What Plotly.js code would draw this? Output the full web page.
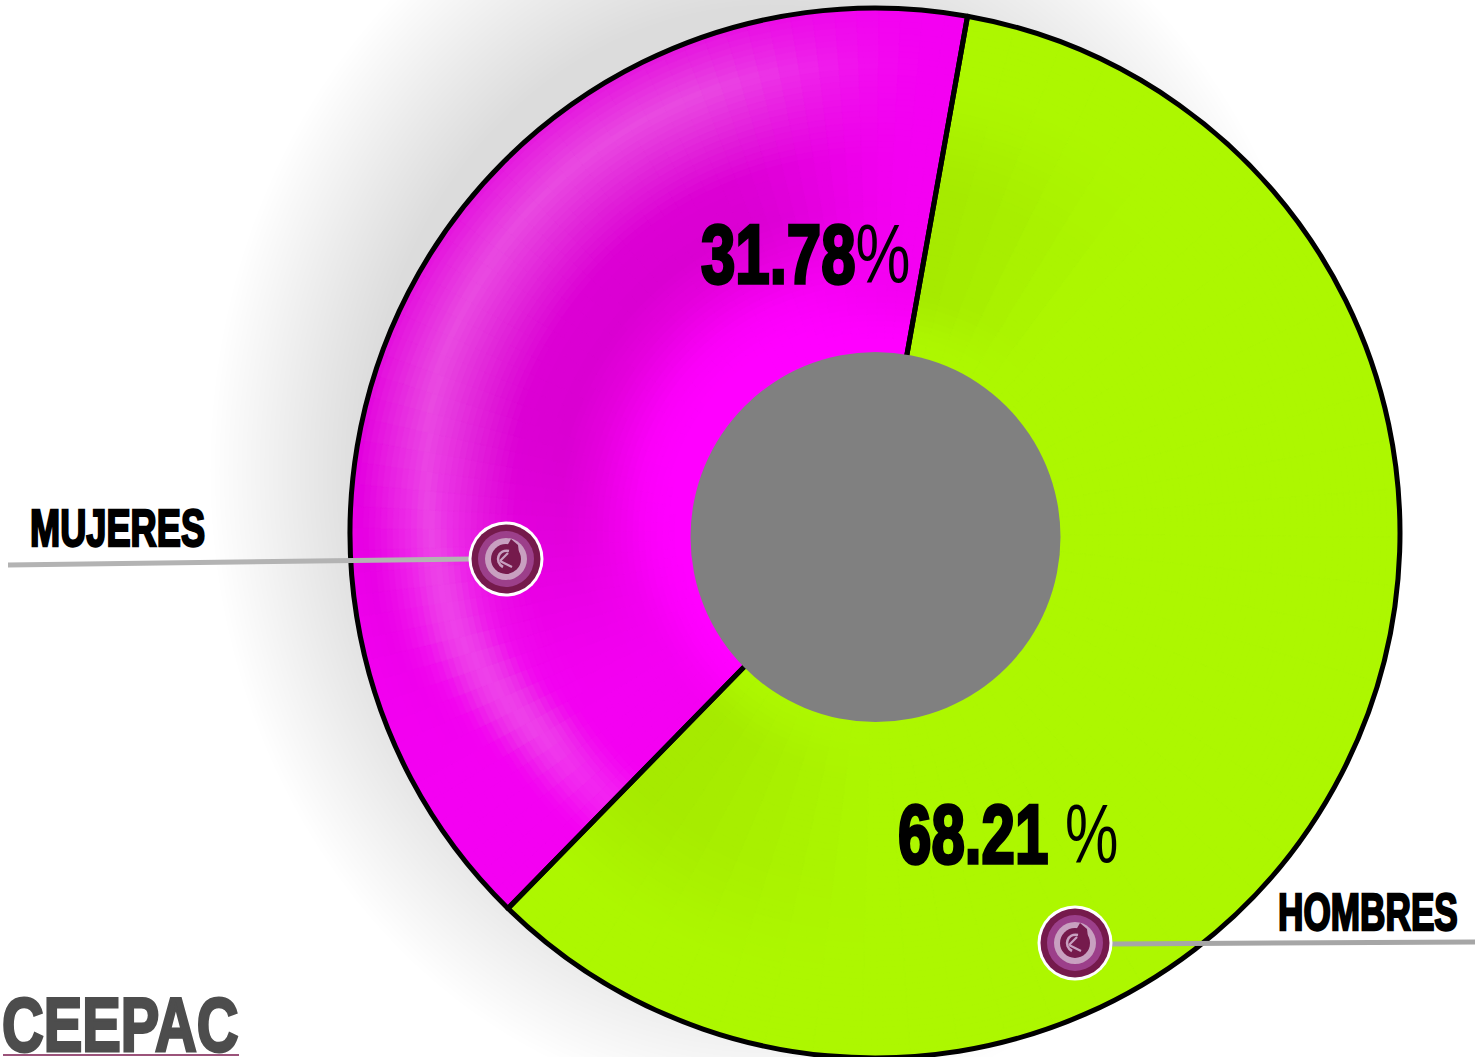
<!DOCTYPE html>
<html>
<head>
<meta charset="utf-8">
<script src="https://cdn.plot.ly/plotly-3.0.1.min.js"></script>
<style>
html,body{margin:0;padding:0;background:#fff;overflow:hidden;}
#chart{width:1475px;height:1060px;}
.annotation-text{stroke:#000;transform-box:fill-box;transform-origin:0% 50%;}
.annotation[data-index="0"] .annotation-text{stroke-width:3.4px;transform:scaleX(0.735);}
.annotation[data-index="1"] .annotation-text{stroke-width:3.4px;transform:scaleX(0.715);}
.annotation[data-index="2"] .annotation-text{stroke-width:2.4px;transform:scaleX(0.71);}
.annotation[data-index="3"] .annotation-text{stroke-width:2.4px;transform:scaleX(0.69);}
.annotation[data-index="4"] .annotation-text{stroke:#4d4d4d;stroke-width:3px;transform:scaleX(0.76);}
.annotation-text tspan[style*="font-weight"]{stroke:none;}
</style>
</head>
<body>
<div id="chart"></div>
<script>
// Data
const categories = ['HOMBRES', 'MUJERES'];
const printedNumbers = ['68.21 ', '31.78'];
const percentSign = '%';
// Share of the circle each slice occupies as drawn in the picture
const drawnShares = [59.5, 40.5];
const sliceColors = ['#adf700', '#f200f0'];
const startAngle = 10.15;

const W = 1475, H = 1060;
const cx = 875, cy = 533, R = 525;
const px = x => x / W, py = y => 1 - y / H;

function hex(c){return [1,3,5].map(i=>parseInt(c.substr(i,2),16));}
function mix(a,b,t){return a.map((v,i)=>v+(b[i]-v)*t);}
function css(c){return 'rgb('+c.map(v=>Math.round(v)).join(',')+')';}
function lookup(stops,x){
  if(x<=stops[0][0])return stops[0][1];
  for(let i=1;i<stops.length;i++){
    if(x<=stops[i][0]){
      const t=(x-stops[i-1][0])/(stops[i][0]-stops[i-1][0]);
      const a=stops[i-1][1],b=stops[i][1];
      return Array.isArray(a)?mix(a,b,t):a+(b-a)*t;
    }
  }
  return stops[stops.length-1][1];
}
const ss=(a,b,x)=>{const t=Math.max(0,Math.min(1,(x-a)/(b-a)));return t*t*(3-2*t);};

// Radial shading profile of the magenta slice
const magentaProfile = [
 [190,hex('#ff00ff')],[225,hex('#fa00f8')],[270,hex('#e400dc')],[300,hex('#da00d2')],[345,hex('#dc00d4')],
 [378,hex('#e01cd8')],[430,hex('#e94ae1')],[478,hex('#e414de')],[495,hex('#e000dc')],[525,hex('#ea00e6')]
];
const bandRadius = [[225,380],[238,392],[257,433],[290,468],[320,478],[335,475],[372,470]];
function magentaAt(r,a){
  const rr = r*430/lookup(bandRadius,a);
  const base = hex('#f400f2');
  const w = ss(235,290,a)*(1-ss(335,368,a));
  const band = 1-ss(0,55,Math.abs(rr-430));
  const lowBoost = a<290 ? band*ss(224,242,a)*0.95 : 0;
  let c = mix(base,lookup(magentaProfile,rr),Math.max(w,lowBoost));
  if(a<290 && band>0){ c = mix(c,hex('#f23cf0'),band*0.55*(1-ss(255,290,a))); }
  if(r<250){ c = mix(hex('#ff00ff'),c,ss(190,250,r)); }
  return c;
}
function greenAt(r,a){
  const base = hex('#adf700'), dark = hex('#a6ea00');
  const radial = ss(190,250,r)*(1-ss(340,470,r));
  const near = Math.max(1-ss(0,35,a-10.15), 1-ss(0,50,224.3-a));
  return mix(base,dark,radial*near);
}

const traces = [];
const dom = rad => ({x:[px(cx-rad),px(cx+rad)], y:[py(cy+rad),py(cy-rad)]});
const common = {type:'pie',sort:false,direction:'clockwise',rotation:startAngle,textinfo:'none',
                hoverinfo:'skip',showlegend:false};
traces.push(Object.assign({},common,{labels:categories,values:drawnShares,domain:dom(R),
  marker:{colors:sliceColors,line:{width:0}}}));

// Shading: nested discs, each split into small sectors of the two slices
const nGreen=40, nMag=60, step=6;
const sectorVals=[], sectorLabels=[], sectorAngles=[];
for(let i=0;i<nGreen;i++){sectorVals.push(drawnShares[0]/nGreen);sectorLabels.push('g'+i);
  sectorAngles.push(['g',startAngle+(i+.5)*drawnShares[0]*3.6/nGreen]);}
for(let i=0;i<nMag;i++){sectorVals.push(drawnShares[1]/nMag);sectorLabels.push('m'+i);
  sectorAngles.push(['m',startAngle+drawnShares[0]*3.6+(i+.5)*drawnShares[1]*3.6/nMag]);}
for(let r=R-1;r>180;r-=step){
  const colors=sectorAngles.map(s=>css(s[0]==='g'?greenAt(r,s[1]):magentaAt(r,s[1])));
  traces.push(Object.assign({},common,{labels:sectorLabels,values:sectorVals,domain:dom(r),
    marker:{colors:colors,line:{width:0.6,color:colors}}}));
}
// Outline on top
traces.push(Object.assign({},common,{labels:categories,values:drawnShares,domain:dom(R),
  marker:{colors:['rgba(0,0,0,0)','rgba(0,0,0,0)'],line:{color:'#000',width:5}}}));

const shapes=[];
function ellipse(x,y,rx,ry,fill,layer){
  shapes.push({type:'circle',xref:'paper',yref:'paper',layer:layer||'above',
    x0:px(x-rx),x1:px(x+rx),y0:py(y+ry),y1:py(y-ry),fillcolor:fill,line:{width:0}});
}
const circle=(x,y,r,fill,layer)=>ellipse(x,y,r,r,fill,layer);
// Soft drop shadow behind the disc
for(let s=1;s>=0.72;s-=0.008){ ellipse(770,470,560*s,640*s,'rgba(0,0,0,0.0036)','below'); }

// Centre hole
circle(875.5,537,185,'#808080');

// Leader lines
function seg(x0,y0,x1,y1,c,w){shapes.push({type:'line',xref:'paper',yref:'paper',layer:'above',
  x0:px(x0),x1:px(x1),y0:py(y0),y1:py(y1),line:{color:c,width:w}});}
seg(8,565,472,559,'#b3b3b3',5);
seg(1110,944,1475,942,'#a6a6a6',5);

// Callout badges
function path(d,fill,stroke,w){shapes.push({type:'path',xref:'paper',yref:'paper',layer:'above',path:d,
  fillcolor:fill,line:{color:stroke||'rgba(0,0,0,0)',width:w||0}});}
function badge(x,y){
  const P=(dx,dy)=>px(x+dx).toFixed(5)+' '+py(y+dy).toFixed(5);
  circle(x,y,37.5,'#ffffff');
  circle(x,y,34.5,'#751a4c');
  circle(x,y,28,'#9c3f8a');
  circle(x,y,21,'#c8a0c0');
  circle(x,y,15,'#751a4c');
  path('M '+P(1,-13)+' L '+P(5,-20)+' L '+P(12,-14)+' L '+P(14,3)+' L '+P(3,9)+' Z','#751a4c');
  path('M '+P(3,-8)+' C '+P(-8,-10)+' '+P(-12,3)+' '+P(-3,8),'rgba(0,0,0,0)','#c8a0c0',2.6);
  path('M '+P(-6,2)+' L '+P(2,-6)+' M '+P(-6,2)+' L '+P(6,8),'rgba(0,0,0,0)','#c8a0c0',2.2);
}
badge(506,559);
badge(1075,943);

// Logo underline
seg(3,1055,239,1055,'#7a1a4e',1.4);

const heavy='"Liberation Sans",sans-serif';
function note(text,x,y,size,color){
  return {text:text,xref:'paper',yref:'paper',x:px(x),y:py(y),xanchor:'left',yanchor:'middle',
    showarrow:false,font:{family:heavy,size:size,color:color,weight:700},borderpad:0,borderwidth:0};
}
const thin='<span style="font-weight:400">'+percentSign+'</span>';
const annotations=[
  note(printedNumbers[1]+thin,701,254,84,'#000'),
  note(printedNumbers[0]+thin,898,834,84,'#000'),
  note(categories[1],30,529,51,'#000'),
  note(categories[0],1278,912,51,'#000'),
  note('CEEPAC',2,1024,76,'#4d4d4d')
];

Plotly.newPlot('chart',traces,{
  width:W,height:H,margin:{l:0,r:0,t:0,b:0,pad:0},
  paper_bgcolor:'#ffffff',plot_bgcolor:'#ffffff',showlegend:false,
  shapes:shapes,annotations:annotations
},{displayModeBar:false,staticPlot:true});
</script>
</body>
</html>
